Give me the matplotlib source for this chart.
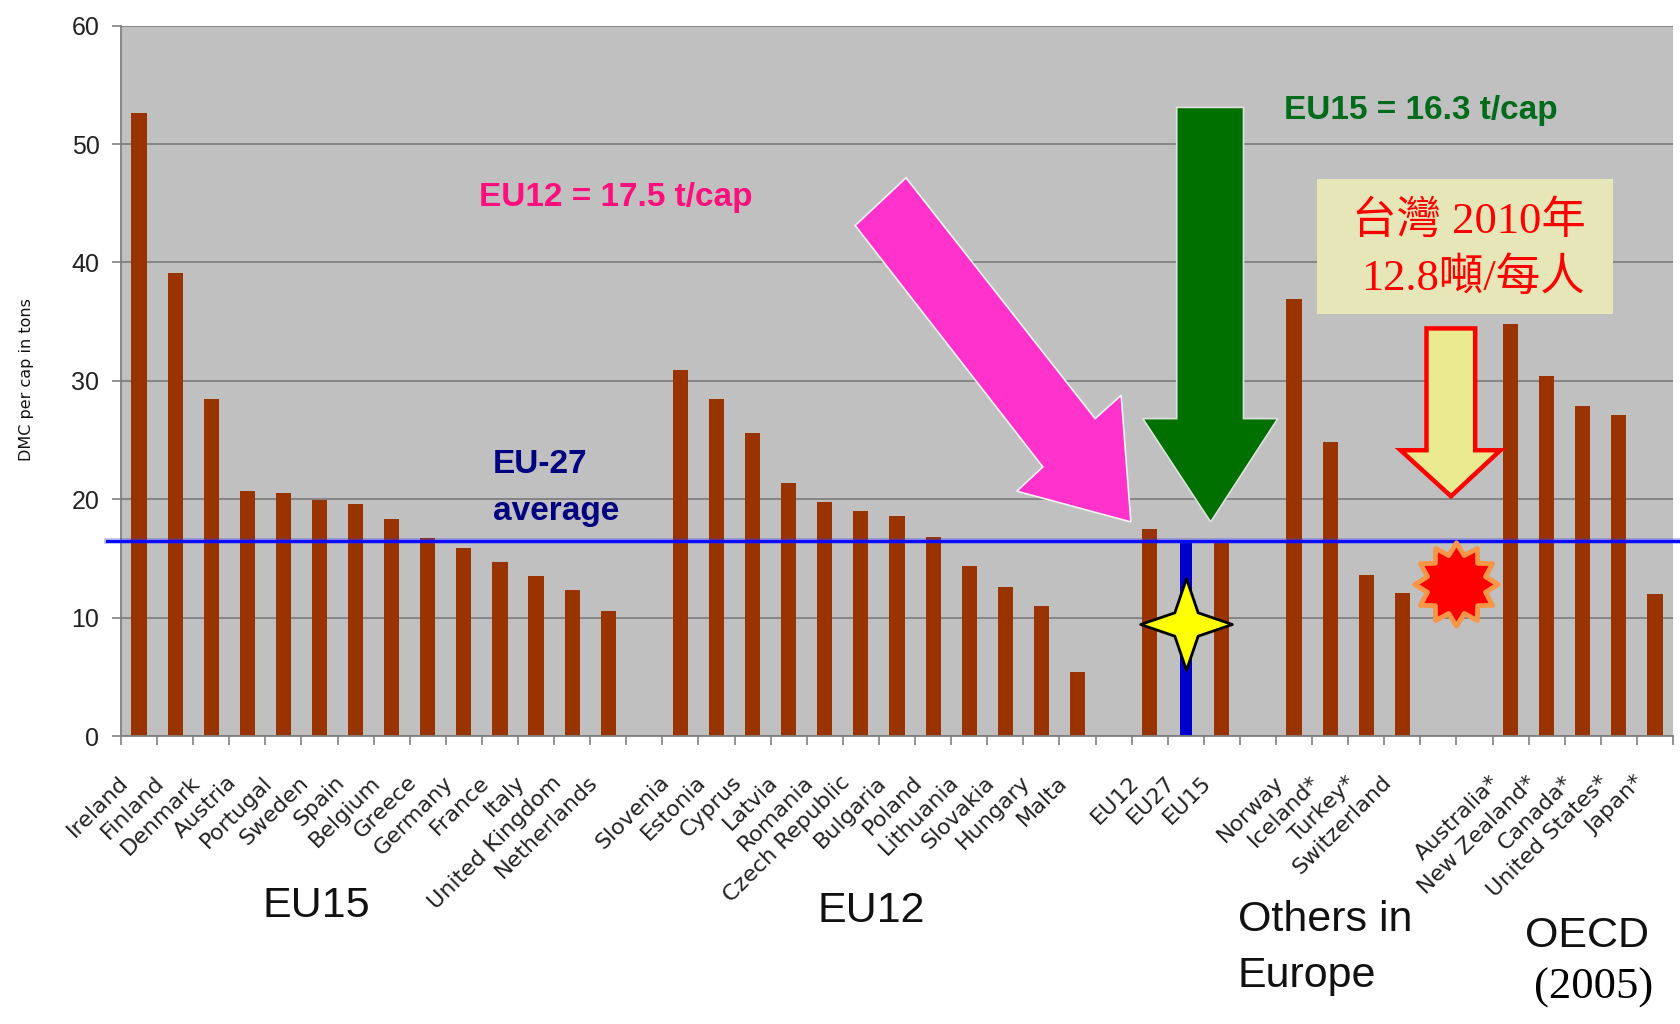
import matplotlib
matplotlib.use('Agg')
import matplotlib.pyplot as plt
from matplotlib.patches import Polygon, Rectangle
from matplotlib.path import Path
from matplotlib.transforms import ScaledTranslation

# ---- data (DMC per capita, tons) ----
eu15_countries = ['Ireland', 'Finland', 'Denmark', 'Austria', 'Portugal', 'Sweden',
                  'Spain', 'Belgium', 'Greece', 'Germany', 'France', 'Italy',
                  'United Kingdom', 'Netherlands']
eu15_values = [52.6, 39.1, 28.5, 20.7, 20.5, 19.9, 19.6, 18.3, 16.7, 15.9, 14.7,
               13.5, 12.3, 10.6]

eu12_countries = ['Slovenia', 'Estonia', 'Cyprus', 'Latvia', 'Romania', 'Czech Republic',
                  'Bulgaria', 'Poland', 'Lithuania', 'Slovakia', 'Hungary', 'Malta']
eu12_values = [30.9, 28.5, 25.6, 21.4, 19.8, 19.0, 18.6, 16.8, 14.4, 12.6, 11.0, 5.4]

agg_labels = ['EU12', 'EU27', 'EU15']
agg_values = [17.5, 16.5, 16.3]

other_countries = ['Norway', 'Iceland*', 'Turkey*', 'Switzerland']
other_values = [36.9, 24.8, 13.6, 12.1]

oecd_countries = ['Australia*', 'New Zealand*', 'Canada*', 'United States*', 'Japan*']
oecd_values = [34.8, 30.4, 27.9, 27.1, 12.0]

eu27_average = 16.5
taiwan_value = 12.8

# ---- colours ----
C_BAR = '#993300'
C_EU27 = '#0000CC'
C_BG = '#C0C0C0'
C_GRID = '#808080'
C_PINK = '#FF33CC'
C_GREEN = '#007000'

ARIAL = ['Liberation Sans', 'DejaVu Sans']
ARIAL_B = dict(family=ARIAL, fontweight='bold')

# ---- layout of slots (empty slots between groups) ----
groups = [eu15_countries, eu12_countries, agg_labels, other_countries, oecd_countries]
group_vals = [eu15_values, eu12_values, agg_values, other_values, oecd_values]
gaps_after = [1, 1, 1, 2, 0]

xs, labels, vals = [], [], []
pos = 0
starts = []
for names, v, gap in zip(groups, group_vals, gaps_after):
    starts.append(pos)
    for n, val in zip(names, v):
        xs.append(pos)
        labels.append(n)
        vals.append(val)
        pos += 1
    pos += gap
n_slots = pos
x_eu27 = starts[2] + 1
x_taiwan = starts[4] - 1.5

fig = plt.figure(figsize=(16.81, 10.24), dpi=100)
ax = fig.add_axes([121 / 1681, 1 - 736 / 1024, 1552 / 1681, (736 - 25.7) / 1024])
ax.set_facecolor(C_BG)
ax.set_xlim(-0.5, n_slots - 0.5)
ax.set_ylim(0, 60)
ax.set_axisbelow(True)

colors = [C_EU27 if l == 'EU27' else C_BAR for l in labels]
widths = [0.33 if l == 'EU27' else 0.42 for l in labels]
ax.bar(xs, vals, width=widths, color=colors, zorder=2)

# grid / spines
ax.set_yticks(range(0, 61, 10))
ax.yaxis.grid(True, color=C_GRID, lw=1.3)
for s in ('top', 'right'):
    ax.spines[s].set_visible(False)
ax.spines['left'].set_color(C_GRID)
ax.spines['bottom'].set_color(C_GRID)
ax.spines['left'].set_linewidth(1.3)
ax.spines['bottom'].set_linewidth(1.3)
ax.tick_params(axis='y', length=6.5, color=C_GRID, width=1.2, pad=9)
for t in ax.get_yticklabels():
    t.set_family(ARIAL)
    t.set_fontsize(18)
    t.set_color('#222222')

# x ticks: boundaries (major) + labels (minor)
ax.set_xticks([i - 0.5 for i in range(n_slots + 1)])
ax.set_xticklabels([])
ax.tick_params(axis='x', which='major', length=6.5, color=C_GRID, width=1.2)
ax.set_xticks(xs, minor=True)
ax.set_xticklabels(labels, minor=True, rotation=45, ha='right',
                   rotation_mode='anchor', fontsize=16, color='#222222')
ax.tick_params(axis='x', which='minor', length=0, pad=26)
shift = ScaledTranslation(-21 / 100, 0, fig.dpi_scale_trans)
for t in ax.get_xticklabels(minor=True):
    t.set_transform(t.get_transform() + shift)

# EU-27 average line
ax.plot([-0.9, n_slots + 0.2], [eu27_average, eu27_average], color='#3030FF',
        lw=4, alpha=0.35, zorder=3, clip_on=False)
ax.plot([-0.9, n_slots + 0.2], [eu27_average, eu27_average], color='#0A0AFF',
        lw=2.2, zorder=3, clip_on=False)

# ---- annotation shapes ----
pink = [(21.25, 47.15), (19.84, 43.12), (25.04, 22.73), (24.32, 20.68),
        (27.48, 18.08), (27.21, 28.78), (26.49, 26.81)]
ax.add_patch(Polygon(pink, closed=True, fc=C_PINK, ec='#F4F4F4', lw=1.2, zorder=4))

green = [(28.75, 53.1), (30.60, 53.1), (30.60, 26.81), (31.55, 26.81),
         (29.69, 18.08), (27.81, 26.81), (28.75, 26.81)]
ax.add_patch(Polygon(green, closed=True, fc=C_GREEN, ec='#E0E0E0', lw=1.2, zorder=4))

red_arrow = [(35.67, 34.43), (37.02, 34.43), (37.02, 24.14), (37.72, 24.14),
             (36.35, 20.25), (34.95, 24.14), (35.67, 24.14)]
ax.add_patch(Polygon(red_arrow, closed=True, fc='#EAEA90', ec='#FF0000', lw=3.2,
                     joinstyle='miter', zorder=4))

# Taiwan box
ax.add_patch(Rectangle((32.64, 35.67), 40.83 - 32.64, 47.06 - 35.67,
                       fc='#E6E6B8', ec='none', zorder=4))
CJK = ['Liberation Serif', 'Noto Sans CJK TC']
ax.text(36.85, 43.5, '台灣 2010年', family=CJK, fontsize=32, color='#FF0000',
        ha='center', va='center', zorder=5)
ax.text(36.95, 38.7, '12.8噸/每人', family=CJK, fontsize=32, color='#FF0000',
        ha='center', va='center', zorder=5)

# stars
star4 = Path.unit_regular_star(4, 0.36)
ax.plot([x_eu27], [9.45], marker=star4, ms=66, mfc='#FFFF00', mec='black',
        mew=2, zorder=5, clip_on=False)
burst = Path.unit_regular_star(12, 0.72)
ax.plot([x_taiwan], [taiwan_value], marker=burst, ms=60, mfc='#FF0000',
        mec='#F79646', mew=3.5, zorder=5)

# ---- texts inside plot ----
ax.text(9.42, 45.5, 'EU12 = 17.5 t/cap', color='#FF0F7B', fontsize=24,
        ha='left', va='center', zorder=5, **ARIAL_B)
ax.text(31.72, 52.8, 'EU15 = 16.3 t/cap', color='#006B1A', fontsize=24,
        ha='left', va='center', zorder=5, **ARIAL_B)
ax.text(9.81, 22.9, 'EU-27', color='#000080', fontsize=24,
        ha='left', va='center', zorder=5, **ARIAL_B)
ax.text(9.81, 19.0, 'average', color='#000080', fontsize=24,
        ha='left', va='center', zorder=5, **ARIAL_B)

# ---- texts outside plot ----
fig.text(27 / 1681, 1 - 380 / 1024, 'DMC per cap in tons', rotation=90,
         fontsize=11.5, ha='center', va='center', color='#111111')
fig.text(316 / 1681, 1 - 906 / 1024, 'EU15', family=ARIAL, fontsize=31,
         ha='center', va='center', color='#111111')
fig.text(871.5 / 1681, 1 - 911 / 1024, 'EU12', family=ARIAL, fontsize=31,
         ha='center', va='center', color='#111111')
fig.text(1238 / 1681, 1 - 920 / 1024, 'Others in', family=ARIAL, fontsize=31,
         ha='left', va='center', color='#111111')
fig.text(1238 / 1681, 1 - 975.5 / 1024, 'Europe', family=ARIAL, fontsize=31,
         ha='left', va='center', color='#111111')
fig.text(1587 / 1681, 1 - 936 / 1024, 'OECD', family=ARIAL, fontsize=31,
         ha='center', va='center', color='#111111')
fig.text(1594 / 1681, 1 - 988 / 1024, '(2005)', family=['Liberation Serif', 'DejaVu Serif'],
         fontsize=32, ha='center', va='center', color='black')

fig.savefig('out.png', dpi=100)
